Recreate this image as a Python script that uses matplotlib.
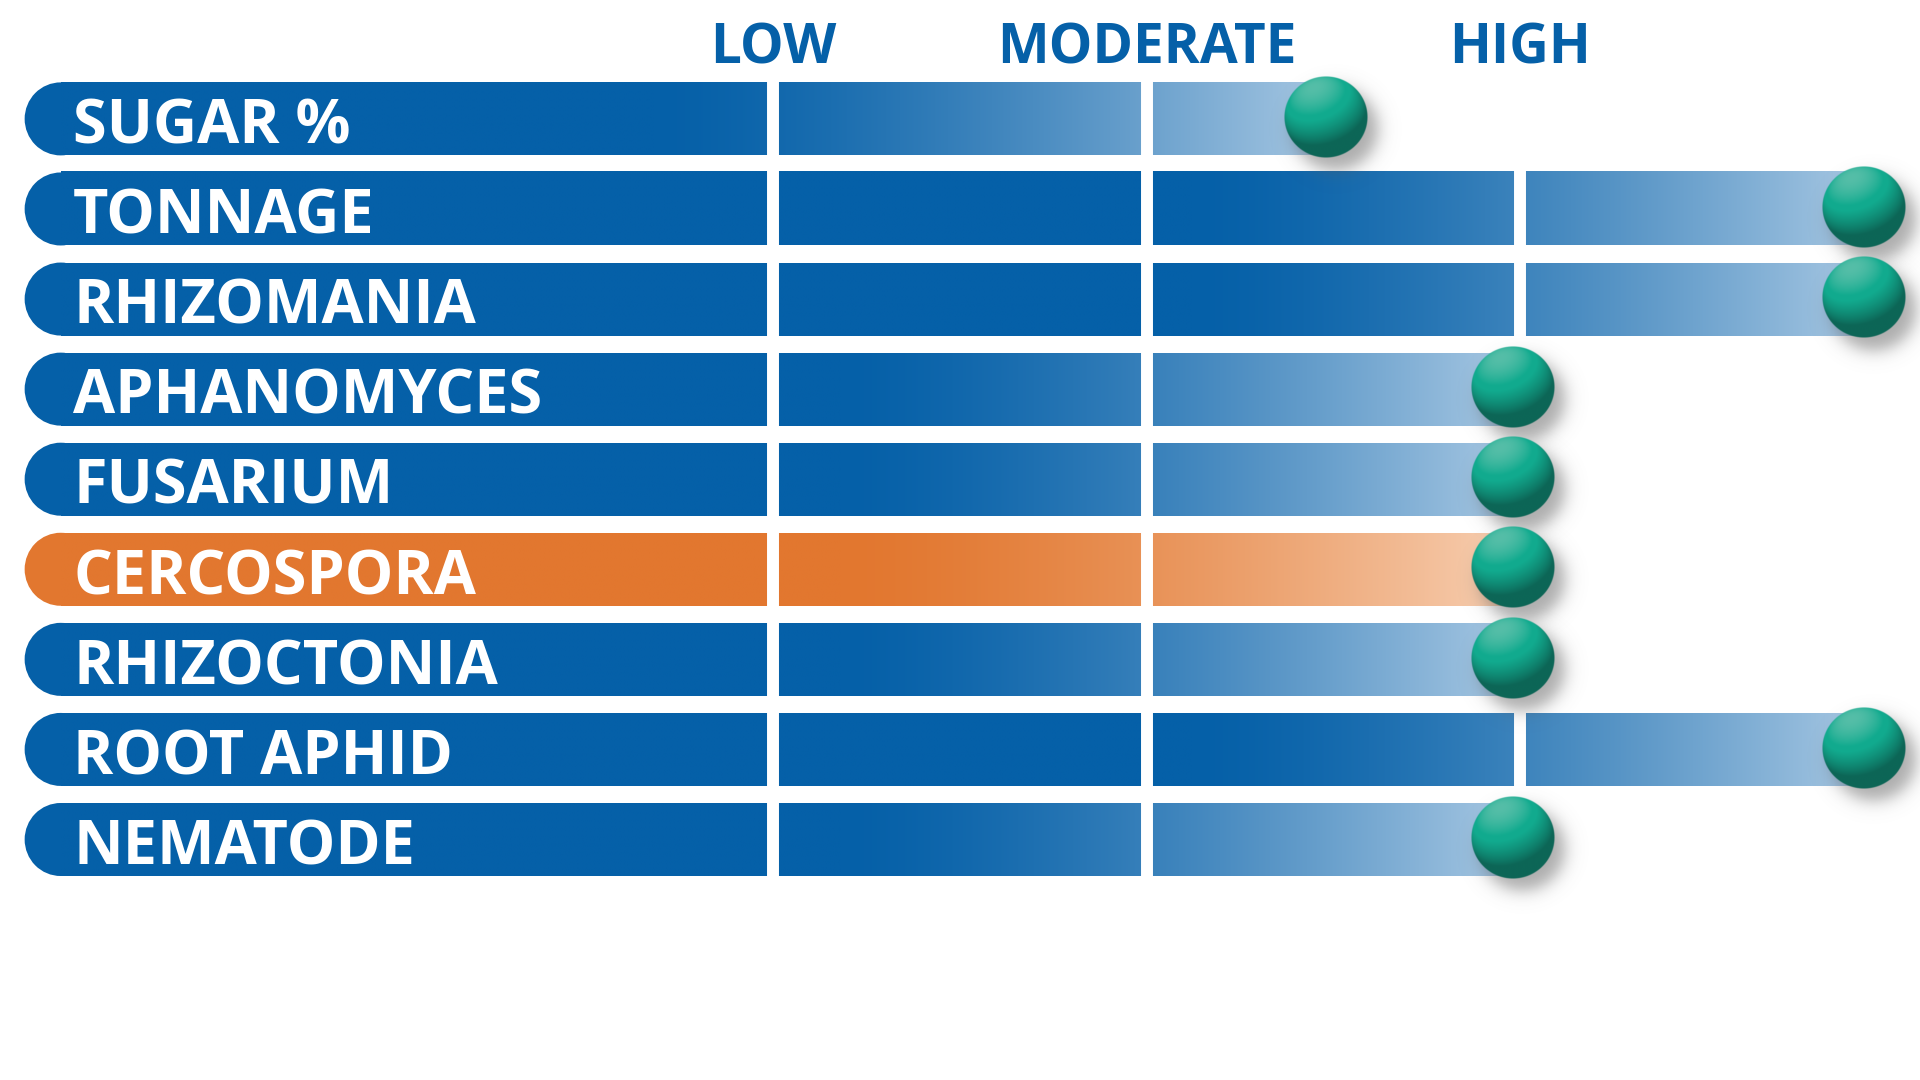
import numpy as np
import matplotlib
matplotlib.use("Agg")
import matplotlib.pyplot as plt
from matplotlib.patches import Ellipse
from matplotlib.colors import to_rgb

# ---------------- data ----------------
traits = ["SUGAR %", "TONNAGE", "RHIZOMANIA", "APHANOMYCES", "FUSARIUM",
          "CERCOSPORA", "RHIZOCTONIA", "ROOT APHID", "NEMATODE"]
ratings = [2.48, 3.92, 3.92, 2.98, 2.98, 2.98, 2.98, 3.92, 2.98]
highlight = ["CERCOSPORA"]
levels = ["LOW", "MODERATE", "HIGH"]
level_pos = [1, 2, 3]

# ---------------- style ----------------
BLUE_DARK = to_rgb("#0560A8")
BLUE_LIGHT = to_rgb("#A8C8E3")
ORANGE_DARK = to_rgb("#E2772F")
ORANGE_LIGHT = to_rgb("#F7CFB2")
FONT = ["Open Sans", "DejaVu Sans"]

fig = plt.figure(figsize=(19.2, 10.8), dpi=100)
ax = fig.add_axes([0, 0, 1, 1])
ax.set_xlim(-1.071, 4.07)
ax.set_ylim(10.67, -1.32)
ax.axis("off")
ax.set_autoscale_on(False)

px_x = 1920 / (4.07 + 1.071)   # pixels per x unit
px_y = 1080 / (10.67 + 1.32)   # pixels per row

bar_h = 73 / px_y
left_edge = -1.005
cap_w = 2 * 36 / px_x
grad_len = 1.8


def ball_images():
    n = 240
    g = np.linspace(-1, 1, n)
    u, v = np.meshgrid(g, g)
    r = np.sqrt(u ** 2 + v ** 2)
    z = np.sqrt(np.clip(1 - r ** 2, 0, 1))
    L = np.array([-0.3, -0.75, 0.65])
    L = L / np.linalg.norm(L)
    diff = np.clip(u * L[0] + v * L[1] + z * L[2], 0, 1)
    dark = np.array([0.05, 0.40, 0.34])
    mid = np.array([0.07, 0.67, 0.56])
    top = np.array([0.42, 0.77, 0.69])
    d = diff[..., None]
    col = dark + (mid - dark) * np.clip(d * 1.6, 0, 1)
    hl = np.clip((d - 0.72) / 0.28, 0, 1)
    col = col * (1 - hl * 0.75) + top * hl * 0.75
    alpha = np.clip((1 - r) * 60, 0, 1)
    ball = np.dstack([np.clip(col, 0, 1), alpha])

    gs = np.linspace(-1.6, 1.6, n)
    us, vs = np.meshgrid(gs, gs)
    rs = np.sqrt(us ** 2 + vs ** 2)
    a = 0.5 / (1 + np.exp((rs - 1.0) / 0.12))
    shadow = np.dstack([np.full_like(rs, 0.35)] * 3 + [a])
    return ball, shadow


BALL, SHADOW = ball_images()
ball_w = 84 / px_x
ball_h = 82 / px_y

for i, (name, val) in enumerate(zip(traits, ratings)):
    yc = i
    if name in highlight:
        c0, c1 = np.array(ORANGE_DARK), np.array(ORANGE_LIGHT)
    else:
        c0, c1 = np.array(BLUE_DARK), np.array(BLUE_LIGHT)

    # rounded left end
    ax.add_patch(Ellipse((left_edge + cap_w / 2, yc), cap_w, bar_h,
                         facecolor=c0, edgecolor="none", zorder=1))
    # gradient bar body
    x0 = left_edge + cap_w / 2
    xs = np.linspace(x0, val, 800)
    t = np.clip((xs - (val - grad_len)) / grad_len, 0, 1) ** 1.5
    row = c0[None, :] * (1 - t[:, None]) + c1[None, :] * t[:, None]
    ax.imshow(row[None, :, :], extent=(x0, val, yc + bar_h / 2, yc - bar_h / 2),
              origin="upper", aspect="auto", interpolation="bilinear", zorder=2)

    # label
    ax.text(-0.875, yc + 0.275, name, color="white", fontsize=44,
            fontweight="bold", family=FONT, ha="left", va="baseline", zorder=5)

# white separators between segments
ax.vlines(level_pos, -0.5, len(traits) - 0.5, colors="white",
          linewidth=8.6, zorder=3)

# balls marking the rating
for i, val in enumerate(ratings):
    yc = i - 0.02
    sx, sy = 9 / px_x, 12 / px_y
    ax.imshow(SHADOW, extent=(val + sx - 1.6 * ball_w / 2, val + sx + 1.6 * ball_w / 2,
                              yc + sy + 1.6 * ball_h / 2, yc + sy - 1.6 * ball_h / 2),
              origin="upper", aspect="auto", interpolation="bilinear", zorder=6)
    ax.imshow(BALL, extent=(val - ball_w / 2, val + ball_w / 2,
                            yc + ball_h / 2, yc - ball_h / 2),
              origin="upper", aspect="auto", interpolation="bilinear", zorder=7)

# level headers
for lab, x in zip(levels, level_pos):
    ax.text(x, -0.614, lab, color="#0560A8", fontsize=39.5, fontweight="bold",
            family=FONT, ha="center", va="baseline", zorder=5)

fig.savefig("out.png", dpi=100, facecolor="white")
